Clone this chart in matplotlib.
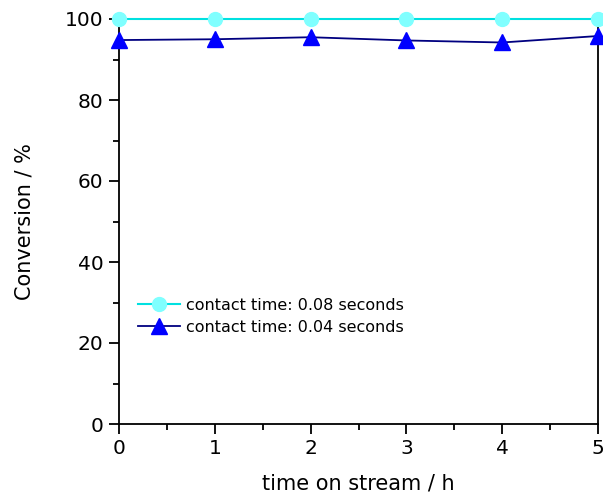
import matplotlib
matplotlib.use("Agg")
import matplotlib.pyplot as plt
from matplotlib.ticker import MultipleLocator

plt.rcParams['font.family'] = ['DejaVu Sans']

time_h = [0, 1, 2, 3, 4, 5]
conv_008 = [100, 100, 100, 100, 100, 100]
conv_004 = [94.8, 95.0, 95.5, 94.7, 94.2, 95.8]
label_008 = "contact time: 0.08 seconds"
label_004 = "contact time: 0.04 seconds"

fig = plt.figure(figsize=(6.03, 4.93), dpi=100)
ax = fig.add_axes([119/603, 1-424/493, (598-119)/603, (424-19)/493])

ax.plot(time_h, conv_008, color='#00E0E0', lw=1.5, marker='o', ms=10,
        mfc='#80FFFF', mec='#80FFFF', label=label_008, clip_on=False, zorder=4)
ax.plot(time_h, conv_004, color='#000080', lw=1.3, marker='^', ms=11,
        mfc='#0000FF', mec='#0000FF', label=label_004, clip_on=False, zorder=3)

ax.set_xlim(0, 5)
ax.set_ylim(0, 100)
ax.xaxis.set_major_locator(MultipleLocator(1))
ax.xaxis.set_minor_locator(MultipleLocator(0.5))
ax.yaxis.set_major_locator(MultipleLocator(20))
ax.yaxis.set_minor_locator(MultipleLocator(10))
ax.spines['top'].set_visible(False)
for s in ['left', 'right', 'bottom']:
    ax.spines[s].set_linewidth(1.3)
ax.tick_params(which='major', direction='out', length=7, width=1.3, labelsize=14.5, pad=4)
ax.tick_params(which='minor', direction='out', length=4, width=1.3)
ax.tick_params(axis='x', which='both', top=False)
ax.tick_params(axis='y', which='both', right=False)

ax.set_xlabel("time on stream / h", fontsize=15, labelpad=11)
ax.set_ylabel("Conversion / %", fontsize=15, labelpad=22)

ax.legend(loc='lower left', bbox_to_anchor=(0.01, 0.185), frameon=False, fontsize=11.5,
          handlelength=2.6, handletextpad=0.4, labelspacing=0.45)

fig.savefig("out.png", dpi=100)
